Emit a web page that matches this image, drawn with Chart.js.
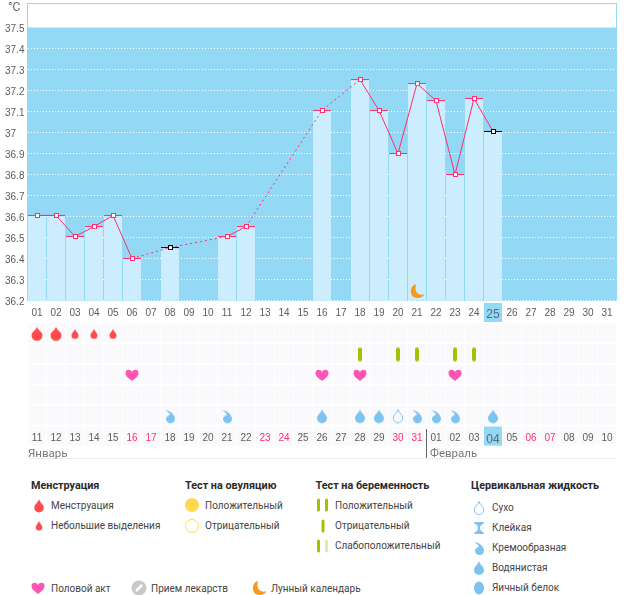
<!DOCTYPE html>
<html><head><meta charset="utf-8">
<script src="https://cdn.jsdelivr.net/npm/chart.js@4"></script>
<style>
html,body{margin:0;padding:0;background:#fff;width:626px;height:595px;overflow:hidden}
body{position:relative;font-family:Roboto,sans-serif}
canvas{position:absolute;display:block}
.t{position:absolute;white-space:nowrap;transform:translateY(-50%);font-size:10px;line-height:14px;color:#444}
.h{font-weight:700;color:#2a2a2a;font-size:10.8px}
</style></head><body>
<canvas id="temp" width="626" height="322" style="left:0;top:0"></canvas>
<canvas id="rows" width="626" height="142" style="left:0;top:320px"></canvas>
<script>
// ---------- data ----------
const cycleDays = ['01','02','03','04','05','06','07','08','09','10','11','12','13','14','15','16','17','18','19','20','21','22','23','24','25','26','27','28','29','30','31'];
const calendarDates = ['11','12','13','14','15','16','17','18','19','20','21','22','23','24','25','26','27','28','29','30','31','01','02','03','04','05','06','07','08','09','10'];
const temperatures = [36.605,36.605,36.505,36.552,36.605,36.4,null,36.452,null,null,36.505,36.552,null,null,null,37.105,null,37.252,37.105,36.9,37.233,37.152,36.8,37.162,37.005];
const tempTicks = [36.2,36.3,36.4,36.5,36.6,36.7,36.8,36.9,37,37.1,37.2,37.3,37.4,37.5];
const uncertainDays = ['08','25'];
const currentDay = '25';
const currentDate = '04';
const weekendDates = ['16','17','23','24','30','31','06','07'];
const moonDays = ['21'];
const moonLevel = 36.245;
const rowNames = ['menses','test','sex','ovulation','fluid'];
const heavyDays = ['11','12'];
const lightDays = ['13','14','15'];
const testDays = ['28','30','31','02','03'];
const sexDays = ['16','26','28','02'];
const wateryDays = ['26','28','29','04'];
const dryDays = ['30'];
const creamyDays = ['18','21','31','01','02'];
const headings = ['Менструация','Тест на овуляцию','Тест на беременность','Цервикальная жидкость'];
const mensesItems = ['Менструация','Небольшие выделения'];
const ovulationItems = ['Положительный','Отрицательный'];
const pregnancyItems = ['Положительный','Отрицательный','Слабоположительный'];
const fluidItems = ['Сухо','Клейкая','Кремообразная','Водянистая','Яичный белок'];
const otherItems = ['Половой акт','Прием лекарств','Лунный календарь'];
const monthNames = ['Январь','Февраль'];

// ---------- colours ----------
const BLUE='#93d9f5', BAR='#cbedfe', PINK='#ff2f6e', RED='#ff4a50', GREEN='#9cc400', HEART='#ff55b5', DROP='#7cc3f2', ORANGE='#f59a1c', TICK='#5c5c5c';
const FONT='"Liberation Sans",sans-serif';

// ---------- icons ----------
function dropPath(c,x,y,w,h){ // x centre, y top
  const r=w/2, cy=y+h-r;
  c.beginPath(); c.moveTo(x,y);
  c.bezierCurveTo(x+r*0.25,y+h*0.3,x+r,cy-r*0.7,x+r,cy);
  c.arc(x,cy,r,0,Math.PI);
  c.bezierCurveTo(x-r,cy-r*0.7,x-r*0.25,y+h*0.3,x,y);
  c.closePath();
}
const painters={
  heavy(c,s){c.fillStyle=RED;dropPath(c,s/2,s/2-7,11,14);c.fill();},
  light(c,s){c.fillStyle=RED;dropPath(c,s/2,s/2-5,7,10);c.fill();},
  legendHeavy(c,s){c.fillStyle=RED;dropPath(c,s/2,s/2-7,9.5,13.5);c.fill();},
  legendLight(c,s){c.fillStyle=RED;dropPath(c,s/2,s/2-5,6.5,9.5);c.fill();},
  test(c,s){c.fillStyle=GREEN;c.beginPath();c.roundRect(s/2-2,s/2-7,4,14,2);c.fill();},
  test2(c,s){c.fillStyle=GREEN;c.beginPath();c.roundRect(s/2-6,s/2-6.5,3,13,1.5);c.roundRect(s/2+2,s/2-6.5,3,13,1.5);c.fill();},
  testWeak(c,s){c.fillStyle=GREEN;c.beginPath();c.roundRect(s/2-6,s/2-6.5,3,13,1.5);c.fill();c.fillStyle='#dcebb0';c.beginPath();c.roundRect(s/2+2,s/2-6.5,3,13,1.5);c.fill();},
  test1(c,s){c.fillStyle=GREEN;c.beginPath();c.roundRect(s/2-1.5,s/2-6.5,3,13,1.5);c.fill();},
  heart(c,s){const x=s/2,y=s/2;c.fillStyle=HEART;c.beginPath();c.moveTo(x,y+6);
    c.bezierCurveTo(x-3,y+3.5,x-6.5,y+1.5,x-6.5,y-2);c.bezierCurveTo(x-6.5,y-6,x-1.5,y-6,x,y-3);
    c.bezierCurveTo(x+1.5,y-6,x+6.5,y-6,x+6.5,y-2);c.bezierCurveTo(x+6.5,y+1.5,x+3,y+3.5,x,y+6);c.fill();},
  watery(c,s){c.fillStyle=DROP;dropPath(c,s/2,s/2-7,10,14);c.fill();},
  dry(c,s){c.strokeStyle=DROP;c.lineWidth=1;dropPath(c,s/2,s/2-6.5,9.5,13);c.stroke();},
  creamy(c,s){const x=s/2,y=s/2;c.fillStyle=DROP;c.beginPath();c.moveTo(x-5,y-6);
    c.bezierCurveTo(x-1,y-6,x+4,y-3,x+5,y+2);c.arc(x+0.5,y+2.5,4.5,0,Math.PI*1.0);
    c.bezierCurveTo(x-4,y+0.5,x-1,y-1,x,y-1.5);c.bezierCurveTo(x-1,y-3.5,x-3,y-5,x-5,y-6);c.fill();},
  sticky(c,s){const x=s/2,y=s/2;c.fillStyle=DROP;c.beginPath();c.moveTo(x-5,y-6);c.lineTo(x+5,y-6);c.lineTo(x+4.5,y-4.5);c.lineTo(x+1.2,y-2);c.lineTo(x+1.2,y+2);c.lineTo(x+4.5,y+4.5);c.lineTo(x+5,y+6);c.lineTo(x-5,y+6);c.lineTo(x-4.5,y+4.5);c.lineTo(x-1.2,y+2);c.lineTo(x-1.2,y-2);c.lineTo(x-4.5,y-4.5);c.fill();},
  egg(c,s){c.fillStyle=DROP;c.beginPath();c.ellipse(s/2,s/2,5,6.5,0,0,Math.PI*2);c.fill();},
  yes(c,s){c.fillStyle='#ffd84d';c.beginPath();c.arc(s/2,s/2,7,0,Math.PI*2);c.fill();},
  no(c,s){c.strokeStyle='#ffd84d';c.lineWidth=1;c.beginPath();c.arc(s/2,s/2,6.5,0,Math.PI*2);c.stroke();},
  pill(c,s){c.fillStyle='#c8c8c8';c.beginPath();c.arc(s/2,s/2,7.5,0,Math.PI*2);c.fill();c.strokeStyle='#fff';c.lineWidth=2.5;c.beginPath();c.moveTo(s/2-3,s/2+3);c.lineTo(s/2+3,s/2-3);c.stroke();},
  moon(c,s){const x=s/2+0.5,y=s/2;c.fillStyle=ORANGE;c.beginPath();c.moveTo(x-1.5,y-7);
    c.bezierCurveTo(x-9,y-5,x-8,y+7,x,y+7);c.bezierCurveTo(x+3,y+7,x+6,y+5.5,x+7,y+3);
    c.bezierCurveTo(x+3,y+5,x-4,y+3,x-1.5,y-7);c.fill();}
};
function icon(name,size){const k=document.createElement('canvas');k.width=k.height=size||18;painters[name](k.getContext('2d'),size||18);return k;}
function squareMark(col){const k=document.createElement('canvas');k.width=6;k.height=5;const c=k.getContext('2d');c.fillStyle=col;c.fillRect(1,0,5,5);c.fillStyle='#fff';c.fillRect(2,1,3,3);return k;}
const squarePink=squareMark(PINK), squareBlack=squareMark('#000');

// ---------- plugins ----------
const tempBackdrop={id:'tempBackdrop',beforeDraw(ch){
  const c=ch.ctx,a=ch.chartArea,y=ch.scales.y,x=ch.scales.x;
  c.save();c.fillStyle=BLUE;const t=y.getPixelForValue(37.5);
  c.fillRect(a.left,t,a.right-a.left,a.bottom-t);
  c.strokeStyle=BLUE;c.lineWidth=1;c.strokeRect(a.left,a.top,a.right-a.left,a.bottom-a.top);
  const cx=x.getPixelForValue(cycleDays.indexOf(currentDay));
  c.fillRect(cx-9,a.bottom+2.5,18,19);
  c.restore();
}};
const cellBackdrop={id:'cellBackdrop',beforeDraw(ch){
  const c=ch.ctx,a=ch.chartArea,x=ch.scales.x,rh=(a.bottom-a.top)/5;
  c.save();
  for(let r=0;r<6;r++)for(let i=0;i<31;i++){
    const cx=x.getPixelForValue(i),top=a.top+r*rh;
    c.fillStyle=(r===5&&calendarDates[i]===currentDate)?BLUE:'#fafafc';
    c.fillRect(cx-9,top,18,rh-1.5);
  }
  c.fillStyle='#ececec';c.fillRect(a.left,a.bottom+31.5,589,1);
  const sep=x.getPixelForValue(calendarDates.indexOf('01'))-10.5;
  c.fillStyle='#666';c.fillRect(Math.round(sep),a.bottom+2.5,1,29);
  c.restore();
}};

// ---------- temperature chart ----------
new Chart(document.getElementById('temp'),{
  type:'bar',
  data:{labels:cycleDays,datasets:[
    {type:'line',data:temperatures,order:1,spanGaps:true,borderColor:PINK,borderWidth:1,
     segment:{borderDash:c=>(c.p0.skip||c.p1.skip)?[2,3]:undefined},
     pointStyle:c=>uncertainDays.includes(cycleDays[c.dataIndex])?squareBlack:squarePink},
    {type:'line',data:temperatures,order:2,showLine:false,pointStyle:'line',pointRadius:9,pointBorderWidth:1,
     pointBorderColor:c=>uncertainDays.includes(cycleDays[c.dataIndex])?'#000':PINK},
    {type:'bar',data:temperatures,order:3,backgroundColor:BAR,categoryPercentage:1,barPercentage:18/19},
    {type:'line',data:moonDays.map(d=>({x:d,y:moonLevel})),order:0,showLine:false,pointStyle:icon('moon',18)}
  ]},
  options:{responsive:false,animation:false,events:[],
    layout:{autoPadding:false,padding:{left:5,right:9.5,top:3.5,bottom:0}},
    plugins:{legend:{display:false},tooltip:{enabled:false}},
    scales:{
      x:{grid:{display:false,drawTicks:false},border:{display:false},
         afterFit:s=>{s.height=21.5;s.paddingLeft=0;s.paddingRight=0;},
         ticks:{autoSkip:false,maxRotation:0,padding:7,
           color:c=>c.index===cycleDays.indexOf(currentDay)?'#5a6a72':TICK,
           font:c=>({family:FONT,size:c.index===cycleDays.indexOf(currentDay)?12:10})}},
      y:{min:36.2,max:36.2+297/210,
         afterFit:s=>{s.width=22.5;s.paddingTop=0;s.paddingBottom=0;},
         afterBuildTicks:s=>{s.ticks=tempTicks.map(v=>({value:v}));},
         border:{display:false,dash:[1,2]},
         grid:{drawTicks:false,lineWidth:1,color:c=>c.tick&&c.tick.value===37.5?'rgba(255,255,255,0)':'#fff'},
         ticks:{crossAlign:'far',padding:0,labelOffset:2,color:TICK,font:{family:FONT,size:10},callback:v=>String(v)}}
    }
  },
  plugins:[tempBackdrop]
});

// ---------- day rows ----------
function marks(days,row,name){return {data:days.map(d=>({x:d,y:row})),showLine:false,pointStyle:icon(name,18)};}
new Chart(document.getElementById('rows'),{
  type:'line',
  data:{labels:calendarDates,datasets:[
    marks(heavyDays,'menses','heavy'),marks(lightDays,'menses','light'),
    marks(testDays,'test','test'),marks(sexDays,'sex','heart'),
    marks(wateryDays,'fluid','watery'),marks(dryDays,'fluid','dry'),marks(creamyDays,'fluid','creamy')
  ]},
  options:{responsive:false,animation:false,events:[],
    layout:{autoPadding:false,padding:{left:27.5,right:9.5,top:3.5,bottom:0}},
    plugins:{legend:{display:false},tooltip:{enabled:false}},
    scales:{
      x:{type:'category',labels:calendarDates,offset:true,grid:{display:false,drawTicks:false},border:{display:false},
         afterFit:s=>{s.height=142-106.5;s.paddingLeft=0;s.paddingRight=0;},
         ticks:{autoSkip:false,maxRotation:0,padding:6,
           color:c=>weekendDates.includes(calendarDates[c.index])?PINK:(calendarDates[c.index]===currentDate?'#5a6a72':TICK),
           font:c=>({family:FONT,size:calendarDates[c.index]===currentDate?12:10})}},
      y:{type:'category',labels:rowNames,display:false,offset:true}
    }
  },
  plugins:[cellBackdrop]
});

// ---------- legend ----------
function text(s,x,y,cls,extra){const d=document.createElement('div');d.className='t '+(cls||'');d.textContent=s;d.style.left=x+'px';d.style.top=y+'px';if(extra)d.style.cssText+=extra;document.body.appendChild(d);}
function put(name,cx,cy){const k=icon(name,18);k.style.left=(cx-9)+'px';k.style.top=(cy-9)+'px';document.body.appendChild(k);}
text('°C',8,7,'','font-size:12px;color:#666');
text(monthNames[0],28,453,'','font-size:11.5px;color:#777');
text(monthNames[1],430,453,'','font-size:11.5px;color:#777');
[31,185,315.5,471].forEach((x,i)=>text(headings[i],x,485.5,'h'));
const rowY=[505.5,526,546];
mensesItems.forEach((s,i)=>{text(s,51,rowY[i]);put(['legendHeavy','legendLight'][i],38.5,505.5+i*20.5);});
ovulationItems.forEach((s,i)=>{text(s,205,rowY[i]);put(['yes','no'][i],192,505+i*21);});
pregnancyItems.forEach((s,i)=>{text(s,335,rowY[i]);put(['test2','test1','testWeak'][i],322.5,505+i*20.5);});
fluidItems.forEach((s,i)=>{text(s,492,507.5+i*20.2);put(['dry','sticky','creamy','watery','egg'][i],479,507.5+i*20.2);});
[[51,37.5,'heart'],[151,139,'pill'],[271,259,'moon']].forEach((o,i)=>{text(otherItems[i],o[0],588.5);put(o[2],o[1],588);});
</script>
</body></html>
